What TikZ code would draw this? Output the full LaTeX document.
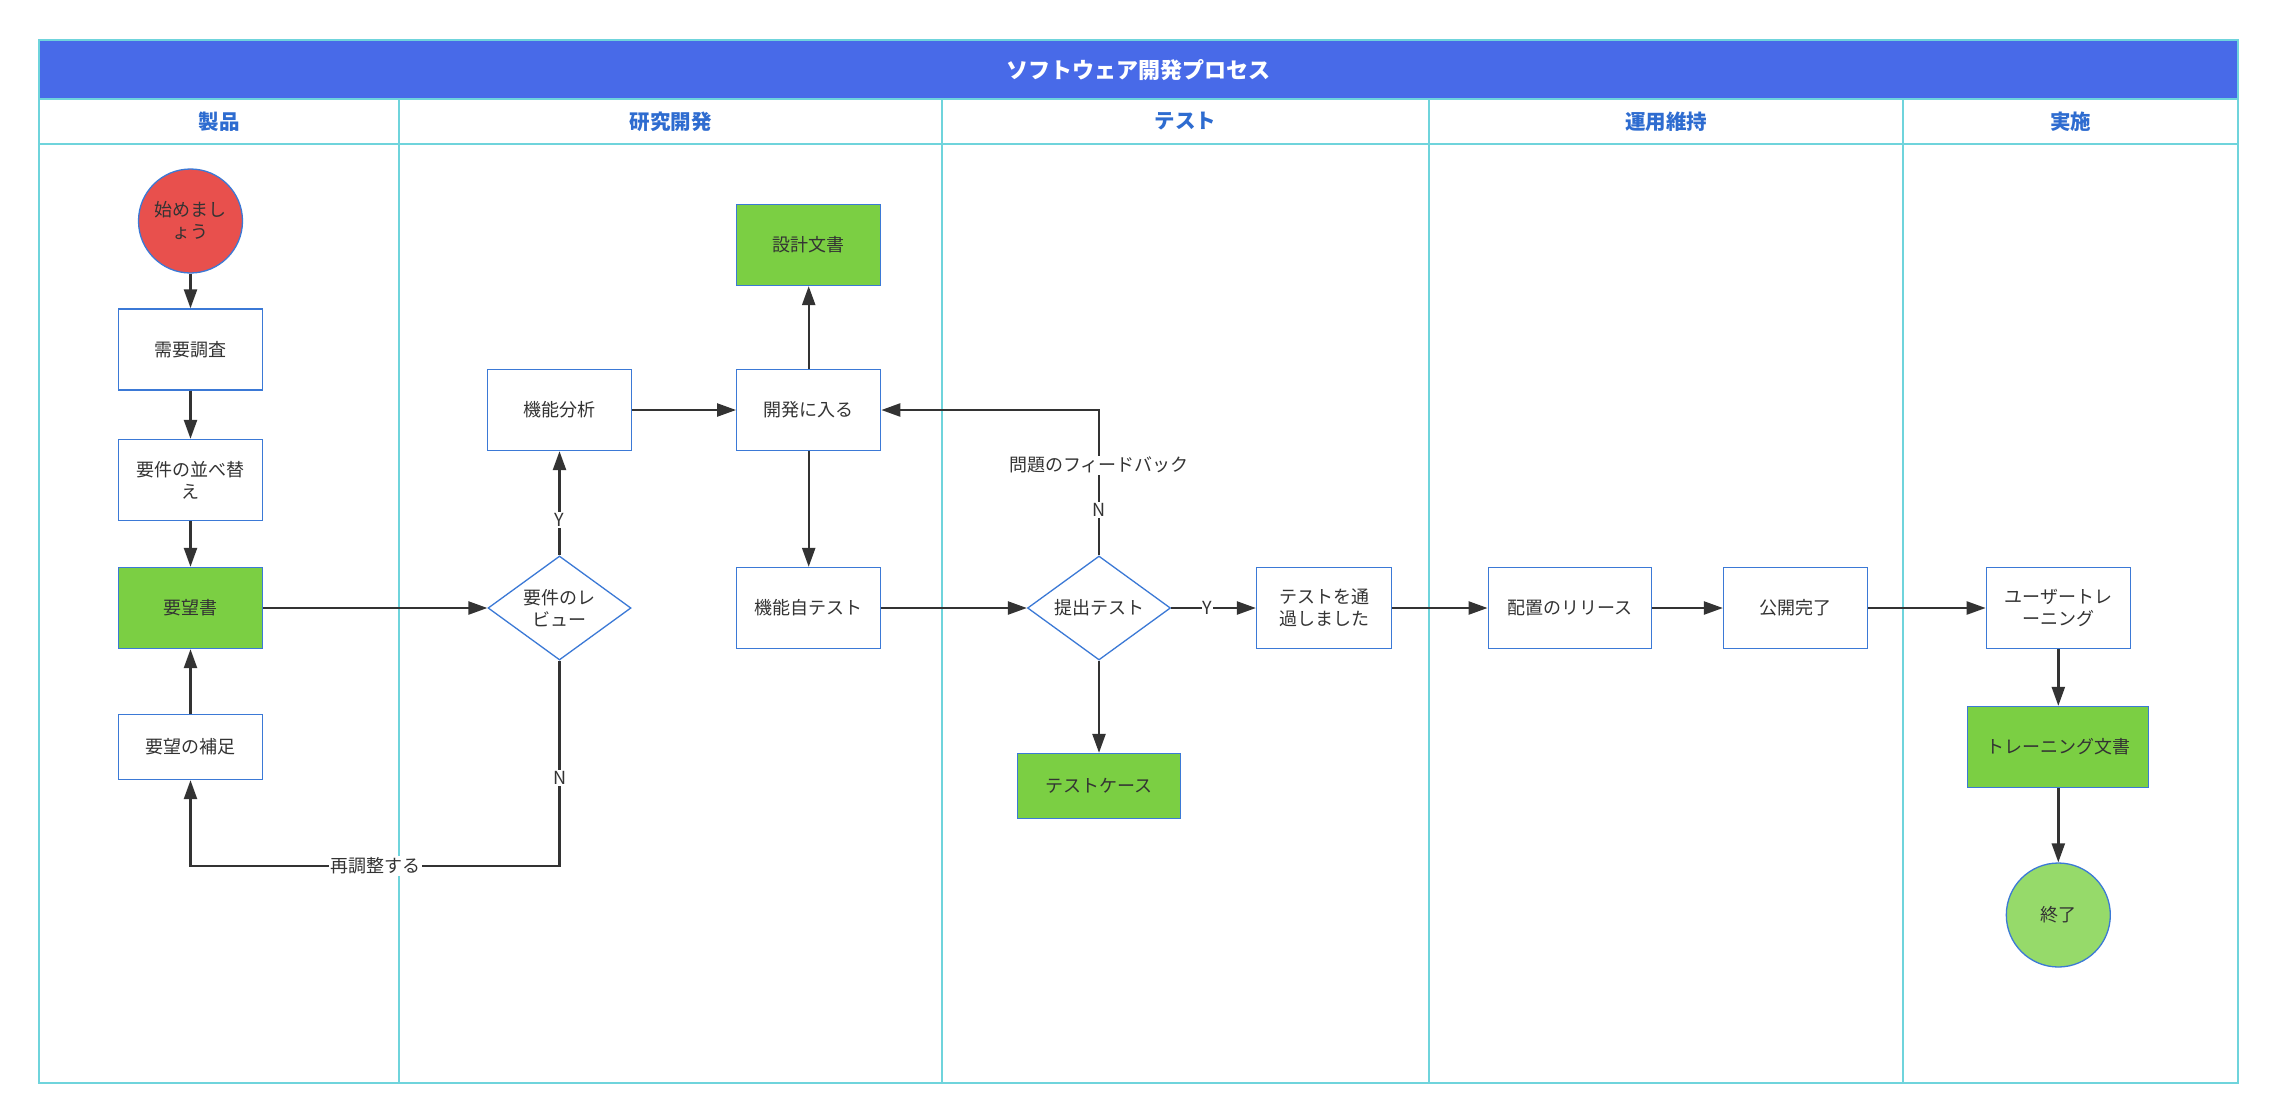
\documentclass[tikz,border=0pt]{standalone}
\usepackage{fontspec}
\setmainfont{Noto Sans CJK JP}
\usetikzlibrary{shapes.geometric,arrows.meta}
\definecolor{titleblue}{HTML}{486AE8}
\definecolor{lanecol}{HTML}{6FD4DC}
\definecolor{headblue}{HTML}{2E6CD0}
\definecolor{nodeblue}{HTML}{3B79D6}
\definecolor{docgreen}{HTML}{7BCF43}
\definecolor{endgreen}{HTML}{96DA6A}
\definecolor{startred}{HTML}{E8504D}
\definecolor{arrgray}{HTML}{333333}
\definecolor{txt}{HTML}{333333}
\tikzset{
  lane/.style={draw=lanecol, line width=1.4pt},
  headtxt/.style={text=headblue, font=\bfseries\fontsize{20.5}{24}\selectfont},
  box/.style={rectangle, draw=nodeblue, line width=1.3pt, fill=white, text=txt,
    minimum width=144pt, minimum height=81pt, inner sep=0pt, align=center,
    font=\fontsize{18}{22}\selectfont},
  docbox/.style={box, fill=docgreen},
  decision/.style={diamond, draw=nodeblue, line width=1.3pt, fill=white, text=txt,
    minimum width=143pt, minimum height=104pt, aspect=1.375, inner sep=0pt, align=center,
    font=\fontsize{18}{22}\selectfont},
  terminal/.style={circle, draw=nodeblue, line width=1.3pt, text=txt,
    minimum size=104pt, inner sep=0pt, align=center, font=\fontsize{18}{22}\selectfont},
  arr/.style={draw=arrgray, line width=2.4pt, -{Triangle[length=19pt,width=13pt]}},
  lbl/.style={fill=white, inner sep=1.5pt, text=txt, font=\fontsize{18}{22}\selectfont}
}
\begin{document}
\begin{tikzpicture}[x=1pt,y=-1pt]
\useasboundingbox (0,0) rectangle (2274,1119);
\fill[white] (0,0) rectangle (2274,1119);
% pool
\fill[titleblue] (39,40) rectangle (2238,99);
\draw[lane] (39,99) -- (2238,99);
\draw[lane] (39,144) -- (2238,144);
\foreach \x in {399,942,1429,1903} \draw[lane] (\x,99) -- (\x,1083);
\draw[lane] (39,40) rectangle (2238,1083);
\node[text=white, font=\bfseries\fontsize{22}{26}\selectfont] (title) at (1138.5,70) {ソフトウェア開発プロセス};
\node[headtxt] (h1) at (219,121.5) {製品};
\node[headtxt] (h2) at (670.5,121.5) {研究開発};
\node[headtxt] (h3) at (1185.5,121.5) {テスト};
\node[headtxt] (h4) at (1666,121.5) {運用維持};
\node[headtxt] (h5) at (2070.5,121.5) {実施};
% nodes
\node[terminal, fill=startred] (st) at (190.5,221) {始めまし\\ょう};
\node[box] (need) at (190.5,349.5) {需要調査};
\node[box] (sort) at (190.5,480) {要件の並べ替\\え};
\node[docbox] (reqdoc) at (190.5,608) {要望書};
\node[box, minimum height=65pt] (supp) at (190.5,747) {要望の補足};
\node[decision] (review) at (559.5,608) {要件のレ\\ビュー};
\node[box] (fana) at (559.5,410) {機能分析};
\node[box] (dev) at (808.7,410) {開発に入る};
\node[docbox] (design) at (808.7,245) {設計文書};
\node[box] (selftest) at (808.7,608) {機能自テスト};
\node[decision] (submit) at (1099,608) {提出テスト};
\node[box, minimum width=135pt] (passed) at (1324,608) {テストを通\\過しました};
\node[docbox, minimum width=163pt, minimum height=65pt] (cases) at (1099,786) {テストケース};
\node[box, minimum width=163pt] (release) at (1569.7,608) {配置のリリース};
\node[box] (public) at (1795.5,608) {公開完了};
\node[box] (train) at (2058.3,608) {ユーザートレ\\ーニング};
\node[docbox, minimum width=181pt] (tdoc) at (2058.3,747) {トレーニング文書};
\node[terminal, fill=endgreen] (fin) at (2058.3,915) {終了};
\coordinate (loopR) at (559.5,866);
\coordinate (loopL) at (190.5,866);
% connectors
\draw[arr] (st) -- (need);
\draw[arr] (need) -- (sort);
\draw[arr] (sort) -- (reqdoc);
\draw[arr] (supp) -- (reqdoc);
\draw[arr] (reqdoc) -- (review);
\draw[arr] (review.north) -- node[lbl,pos=0.34]{Y} (fana.south);
\draw[arr] (review.south) -- node[lbl,pos=0.57]{N} (loopR) -- node[lbl]{再調整する} (loopL) -- (supp.south);
\draw[arr] (fana) -- (dev);
\draw[arr] (dev) -- (design);
\draw[arr] (dev) -- (selftest);
\draw[arr] (selftest) -- (submit);
\draw[arr] (submit.north) -- node[lbl,pos=0.31]{N} node[lbl,pos=0.62]{問題のフィードバック} (submit.north |- dev.east) -- (dev.east);
\draw[arr] (submit.east) -- node[lbl,pos=0.43,inner sep=0.5pt]{Y} (passed.west);
\draw[arr] (submit.south) -- (cases.north);
\draw[arr] (passed) -- (release);
\draw[arr] (release) -- (public);
\draw[arr] (public) -- (train);
\draw[arr] (train) -- (tdoc);
\draw[arr] (tdoc) -- (fin);
\end{tikzpicture}
\end{document}
